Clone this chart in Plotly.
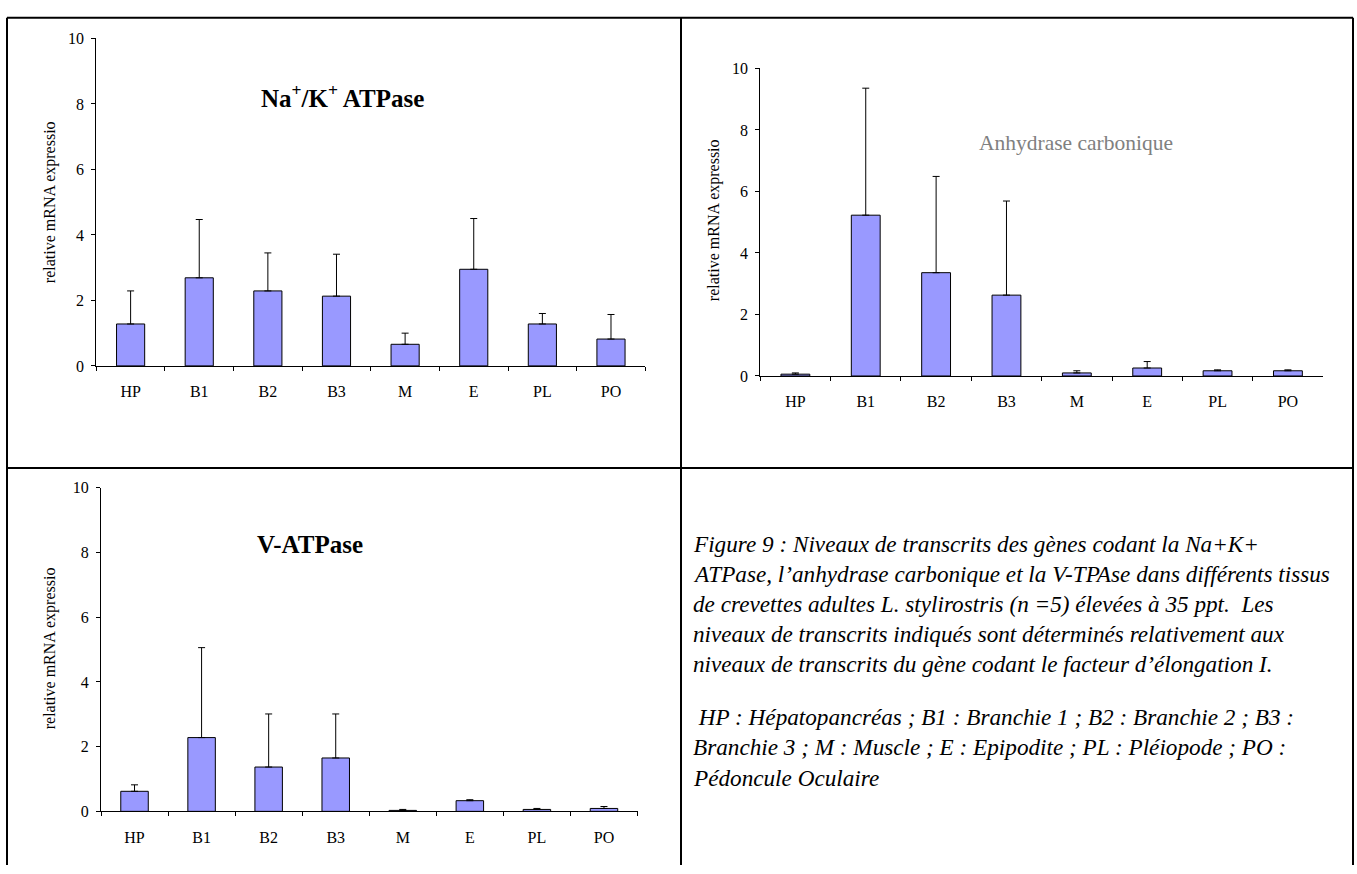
import plotly.graph_objects as go

W, H = 1357, 874

categories = ["HP", "B1", "B2", "B3", "M", "E", "PL", "PO"]

# Na+/K+ ATPase
nak_mean = [1.28, 2.69, 2.29, 2.13, 0.66, 2.95, 1.28, 0.82]
nak_err = [1.01, 1.78, 1.16, 1.28, 0.34, 1.55, 0.32, 0.75]

# Anhydrase carbonique
ac_mean = [0.06, 5.23, 3.36, 2.63, 0.10, 0.26, 0.17, 0.17]
ac_err = [0.04, 4.13, 3.13, 3.06, 0.07, 0.21, 0.03, 0.03]

# V-ATPase
v_mean = [0.62, 2.28, 1.37, 1.65, 0.03, 0.33, 0.06, 0.09]
v_err = [0.20, 2.78, 1.64, 1.36, 0.03, 0.03, 0.03, 0.06]

y_ticks = [0, 2, 4, 6, 8, 10]

caption_lines = [
    "Figure 9 : Niveaux de transcrits des gènes codant la Na+K+",
    "ATPase, l’anhydrase carbonique et la V-TPAse dans différents tissus",
    "de crevettes adultes L. stylirostris (n =5) élevées à 35 ppt.  Les",
    "niveaux de transcrits indiqués sont déterminés relativement aux",
    "niveaux de transcrits du gène codant le facteur d’élongation I.",
    " HP : Hépatopancréas ; B1 : Branchie 1 ; B2 : Branchie 2 ; B3 :",
    "Branchie 3 ; M : Muscle ; E : Epipodite ; PL : Pléiopode ; PO :",
    "Pédoncule Oculaire",
]


def px(x):
    return x / W


def py(y):
    return 1 - y / H


SERIF = "Times New Roman, Liberation Serif, serif"
BAR_FILL = "#9999FF"

fig = go.Figure()

panels = [
    # (mean, err, axis suffix, x0, x1, ybottom, ytop) in pixels
    (nak_mean, nak_err, "", 96.3, 645.3, 365.0, 31.0),
    (ac_mean, ac_err, "2", 760.2, 1323.1, 375.3, 61.7),
    (v_mean, v_err, "3", 101.0, 637.5, 819.3, 489.3),
]

for mean, err, sid, x0, x1, yb, yt in panels:
    fig.add_trace(go.Bar(
        x=categories, y=mean,
        xaxis="x" + sid, yaxis="y" + sid,
        marker=dict(color=BAR_FILL, line=dict(color="#000000", width=1)),
        error_y=dict(type="data", symmetric=False, array=err,
                     arrayminus=[0] * len(err), color="#000000",
                     thickness=1, width=3.5),
        showlegend=False, hoverinfo="skip",
    ))
    axis_common = dict(showgrid=False, zeroline=False, showline=True,
                       linecolor="#000000", linewidth=1, ticks="outside",
                       ticklen=4, tickcolor="#000000", tickwidth=1,
                       tickfont=dict(family=SERIF, size=16, color="#000000"))
    fig.update_layout(**{
        "xaxis" + sid: dict(domain=[px(x0), px(x1)], anchor="y" + sid,
                            type="category", tickson="boundaries",
                            range=[-0.5, 7.5], ticklabelstandoff=11,
                            **axis_common),
        "yaxis" + sid: dict(domain=[py(yb), py(yt)], anchor="x" + sid,
                            range=[0, 10], tickvals=y_ticks,
                            ticklabelstandoff=4, **axis_common),
    })

annotations = [
    dict(text="<b>Na<sup>+</sup>/K<sup>+</sup> ATPase</b>", x=px(342.6), y=py(90),
         font=dict(family=SERIF, size=25, color="#000000")),
    dict(text="Anhydrase carbonique", x=px(1076), y=py(137.7),
         font=dict(family=SERIF, size=21.5, color="#808080")),
    dict(text="<b>V-ATPase</b>", x=px(310), y=py(546.7),
         font=dict(family=SERIF, size=25, color="#000000")),
]
for (xc, yc) in [(50, 198), (714.7, 216.7), (50, 653)]:
    annotations.append(dict(text="relative mRNA expressio", x=px(xc), y=py(yc),
                            textangle=-90,
                            font=dict(family=SERIF, size=16, color="#000000")))

line_y = [547, 577.5, 608, 638.5, 669, 723, 754, 785]
for txt, yy in zip(caption_lines, line_y):
    annotations.append(dict(text="<i>" + txt + "</i>", x=px(691), y=py(yy),
                            xanchor="left",
                            font=dict(family=SERIF, size=23.2, color="#000000")))

for a in annotations:
    a.setdefault("xanchor", "center")
    a.update(xref="paper", yref="paper", yanchor="middle", showarrow=False)

LW = 2
shapes = [
    dict(type="line", x0=px(7), x1=px(1353), y0=py(10), y1=py(10)),
    dict(type="line", x0=px(7), x1=px(1353), y0=py(469), y1=py(469)),
    dict(type="line", x0=px(7), x1=px(7), y0=py(10), y1=py(874)),
    dict(type="line", x0=px(681), x1=px(681), y0=py(10), y1=py(874)),
    dict(type="line", x0=px(1353), x1=px(1353), y0=py(10), y1=py(874)),
]
for s in shapes:
    s.update(xref="paper", yref="paper", line=dict(color="#000000", width=LW))

fig.update_layout(
    width=W, height=H, margin=dict(l=0, r=0, t=0, b=0),
    paper_bgcolor="#FFFFFF", plot_bgcolor="#FFFFFF",
    bargap=0.59, annotations=annotations, shapes=shapes,
)

fig.write_html("out.html")
